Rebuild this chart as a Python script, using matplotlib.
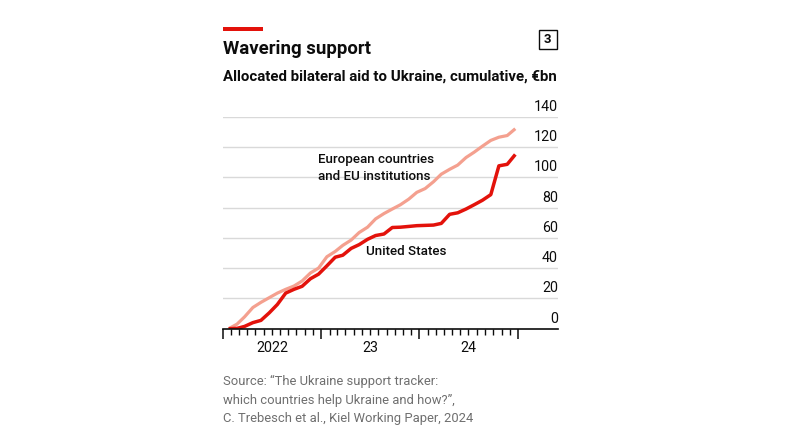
import matplotlib
matplotlib.use("Agg")
import matplotlib.pyplot as plt
import matplotlib.dates as mdates
import matplotlib.transforms as mtransforms
from matplotlib.patches import Rectangle
import pandas as pd
import numpy as np

plt.rcParams['font.family'] = ['Roboto', 'DejaVu Sans']

# ---- data ----
dates = pd.date_range("2022-01-01", periods=36, freq="MS") + pd.Timedelta(days=21)
europe = [0, 3, 7.8, 14, 17.4, 20.5, 23.5, 26, 28.2, 31.5, 36.8, 40,
          47.5, 51, 55, 58.5, 63.5, 67, 72.5, 76, 79, 81.8, 85.5, 90,
          92.5, 97, 102, 105.2, 108, 113, 116.5, 120.5, 124.3, 126.4, 127.5, 132]
us = [0, 0.2, 1.5, 4, 5.5, 10.5, 16, 23.5, 26, 28, 33, 36,
      41.5, 47.2, 48.5, 53, 55.5, 59, 61.5, 62.5, 66.8, 67, 67.5, 68,
      68.2, 68.4, 69.5, 75.5, 76.5, 79, 81.8, 84.8, 88.5, 107.5, 108.5, 115]
yticks = [0, 20, 40, 60, 80, 100, 120, 140]
year_labels = ["2022", "23", "24"]

title = "Wavering support"
subtitle = "Allocated bilateral aid to Ukraine, cumulative, €bn"
source = ("Source: \u201cThe Ukraine support tracker:\n"
          "which countries help Ukraine and how?\u201d,\n"
          "C. Trebesch et al., Kiel Working Paper, 2024")

RED = "#E3120B"
PINK = "#F4A08F"
DARK = "#0C0C0C"
GRID = "#D9D9D9"
GRAY = "#6F6F6F"

W, H = 805, 447
fig = plt.figure(figsize=(W / 100, H / 100), dpi=100)

def fx(px):
    return px / W

def fy(py):
    return 1 - py / H

ax_left, ax_right = 223, 558
ax_top, ax_bot = 116.6, 328.7
ax = fig.add_axes([fx(ax_left), fy(ax_bot), fx(ax_right - ax_left), (ax_bot - ax_top) / H])

x0 = mdates.date2num(pd.Timestamp("2022-01-01"))
x25 = mdates.date2num(pd.Timestamp("2025-01-01"))
px_per_day = (518 - 223) / (x25 - x0)
ax.set_xlim(x0, x0 + (ax_right - ax_left) / px_per_day)
ax.set_ylim(0, 140)

for v in yticks[1:]:
    ax.axhline(v, color=GRID, lw=1.0, zorder=1)

ax.plot(mdates.date2num(dates), europe, color=PINK, lw=2.3, zorder=3,
        solid_joinstyle="round", solid_capstyle="butt")
ax.plot(mdates.date2num(dates), us, color=RED, lw=2.5, zorder=4,
        solid_joinstyle="round", solid_capstyle="butt")

for s in ["top", "right", "left"]:
    ax.spines[s].set_visible(False)
ax.spines["bottom"].set_color(DARK)
ax.spines["bottom"].set_linewidth(1.2)
ax.spines["bottom"].set_zorder(5)

ax.set_yticks([])
# month ticks
months = pd.date_range("2022-01-01", "2025-01-01", freq="MS")
years = pd.date_range("2022-01-01", "2025-01-01", freq="YS")
ax.set_xticks(mdates.date2num(years))
ax.set_xticks(mdates.date2num(months), minor=True)
ax.tick_params(axis="x", which="major", length=7, width=1.1, color=DARK, labelbottom=False)
ax.tick_params(axis="x", which="minor", length=4.3, width=1.0, color=DARK)

# year labels centred on mid-year
xlab_trans = mtransforms.blended_transform_factory(ax.transData, ax.transAxes)
ylab_pos = -(348 - ax_bot) / (ax_bot - ax_top)
for i, lab in enumerate(year_labels):
    mid = mdates.date2num(pd.Timestamp(f"{2022 + i}-07-02"))
    ax.text(mid, ylab_pos, lab, transform=xlab_trans,
            ha="center", va="center", fontsize=10.3, color=DARK)

# y labels above gridlines at right
trans = mtransforms.blended_transform_factory(ax.transAxes, ax.transData) + \
    mtransforms.ScaledTranslation(0, 3 / 100, fig.dpi_scale_trans)
for v in yticks:
    ax.text(1.0, v, str(v), transform=trans, ha="right", va="bottom",
            fontsize=10.3, color=DARK)

# series labels
fig.text(fx(318), fy(168), "European countries\nand EU institutions", ha="left", va="center",
         fontsize=9.6, color=DARK, linespacing=1.3, fontweight=500)
fig.text(fx(366), fy(252), "United States", ha="left", va="center", fontsize=9.6,
         color=DARK, fontweight=500)

# header
fig.patches.append(Rectangle((fx(223), fy(31)), fx(263 - 223), 3.5 / H, transform=fig.transFigure,
                             color=RED, lw=0))
fig.text(fx(223), fy(49), title, ha="left", va="center", fontsize=13.4, fontweight="bold", color=DARK)
fig.text(fx(223), fy(77), subtitle, ha="left", va="center", fontsize=10.8, fontweight="bold", color=DARK)
fig.patches.append(Rectangle((fx(538.5), fy(48.5)), fx(557 - 538.5), 18.5 / H, transform=fig.transFigure,
                             fill=False, edgecolor=DARK, lw=1.0))
fig.text(fx(547.8), fy(39.5), "3", ha="center", va="center", fontsize=9.5, fontweight="bold", color=DARK)

fig.text(fx(223), fy(400), source, ha="left", va="center", fontsize=9.4, color=GRAY, linespacing=1.55)

fig.savefig("out.png", dpi=100, facecolor="white")
